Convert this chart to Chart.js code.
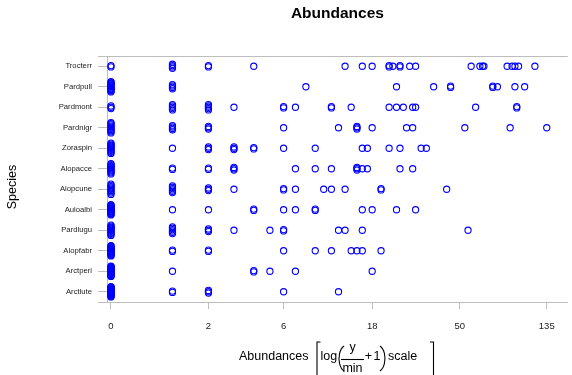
<!DOCTYPE html>
<html>
<head>
<meta charset="utf-8">
<script src="https://cdn.jsdelivr.net/npm/chart.js@4"></script>
<style>
  body { margin: 0; background: #fff; }
  #wrap { width: 572px; height: 375px; }
</style>
</head>
<body>
<div id="wrap"><canvas id="chart" width="572" height="375"></canvas></div>
<script>
// species, top to bottom
const species = ['Trocterr', 'Pardpull', 'Pardmont', 'Pardnigr', 'Zoraspin', 'Alopacce',
  'Alopcune', 'Auloalbi', 'Pardlugu', 'Alopfabr', 'Arctperi', 'Arctlute'];

// abundances at the 28 sites
const trocterr = [0, 0, 1, 1, 1, 1, 2, 2, 4, 13, 16, 18, 22, 22, 23, 25, 25, 28, 30, 57, 63, 65, 66, 86, 91, 94, 98, 118];
const pardpull = [0, 0, 0, 0, 0, 0, 0, 0, 0, 0, 0, 0, 0, 0, 1, 1, 1, 1, 8, 24, 37, 45, 45, 73, 73, 77, 94, 105];
const pardmont = [0, 0, 0, 1, 1, 1, 1, 1, 2, 2, 2, 2, 2, 3, 6, 6, 7, 11, 11, 14, 22, 24, 26, 29, 30, 60, 96, 96];
const pardnigr = [0, 0, 0, 0, 0, 0, 0, 0, 0, 0, 1, 1, 1, 1, 2, 2, 2, 6, 12, 15, 15, 15, 18, 27, 29, 53, 89, 135];
const zoraspin = [0, 0, 0, 0, 0, 0, 0, 0, 0, 0, 0, 1, 2, 2, 2, 3, 3, 3, 4, 4, 6, 9, 16, 17, 22, 25, 32, 34];
const alopacce = [0, 0, 0, 0, 0, 0, 0, 0, 0, 0, 0, 1, 1, 2, 2, 3, 3, 3, 7, 9, 11, 15, 15, 15, 16, 17, 25, 29];
const alopcune = [0, 0, 0, 0, 0, 0, 0, 0, 0, 1, 1, 1, 1, 1, 1, 2, 2, 2, 3, 6, 6, 7, 10, 11, 13, 20, 20, 43];
const auloalbi = [0, 0, 0, 0, 0, 0, 0, 0, 0, 0, 0, 0, 0, 0, 0, 0, 1, 2, 4, 4, 6, 7, 9, 9, 16, 18, 24, 30];
const pardlugu = [0, 0, 0, 0, 0, 0, 0, 0, 0, 0, 0, 1, 1, 1, 1, 1, 1, 2, 2, 2, 3, 5, 6, 6, 12, 13, 16, 55];
const alopfabr = [0, 0, 0, 0, 0, 0, 0, 0, 0, 0, 0, 0, 0, 0, 0, 0, 0, 1, 1, 2, 2, 6, 9, 11, 14, 15, 16, 20];
const arctperi = [0, 0, 0, 0, 0, 0, 0, 0, 0, 0, 0, 0, 0, 0, 0, 0, 0, 0, 0, 0, 0, 0, 1, 4, 4, 5, 7, 18];
const arctlute = [0, 0, 0, 0, 0, 0, 0, 0, 0, 0, 0, 0, 0, 0, 0, 0, 0, 0, 0, 0, 0, 1, 1, 2, 2, 2, 6, 12];

const abund = [trocterr, pardpull, pardmont, pardnigr, zoraspin, alopacce,
  alopcune, auloalbi, pardlugu, alopfabr, arctperi, arctlute];

// x tick labels (raw abundance), placed at log(y/min + 1)
const tickLabels = [0, 2, 6, 18, 50, 135];

const minPos = 1; // smallest non-zero abundance
const tr = v => Math.log(v / minPos + 1);

// spread repeated values a little up and down so they don't sit on top of each other
function stackPoints(vals, row) {
  const counts = {};
  vals.forEach(v => counts[v] = (counts[v] || 0) + 1);
  const seen = {};
  return vals.map(v => {
    const n = counts[v];
    const i = seen[v] = (seen[v] || 0) + 1;
    const spread = Math.min(0.5, 0.065 * (n - 1));
    const off = n > 1 ? -spread / 2 + spread * (i - 1) / (n - 1) : 0;
    return { x: tr(v), y: row + off };
  });
}

const points = [];
abund.forEach((vals, row) => points.push(...stackPoints(vals, row)));

const FONT = "'Liberation Sans', Arial, sans-serif";
const GRAY = '#bdbdbd';

const textPlugin = {
  id: 'texts',
  afterDraw(chart) {
    const ctx = chart.ctx;
    const area = chart.chartArea;
    ctx.save();
    ctx.fillStyle = '#000';
    ctx.strokeStyle = GRAY;
    ctx.lineWidth = 1;
    // top frame line and left extensions of the frame
    ctx.beginPath();
    ctx.moveTo(98, area.top + 0.5); ctx.lineTo(area.right, area.top + 0.5);
    ctx.moveTo(98, area.bottom + 0.5); ctx.lineTo(area.left, area.bottom + 0.5);
    ctx.stroke();

    // main title
    ctx.font = 'bold 15.5px ' + FONT;
    ctx.textAlign = 'center';
    ctx.textBaseline = 'middle';
    ctx.fillText('Abundances', (area.left + area.right) / 2, 14);

    // y title
    ctx.font = '12.5px ' + FONT;
    ctx.save();
    ctx.translate(13, 187);
    ctx.rotate(-Math.PI / 2);
    ctx.fillText('Species', 0, 0);
    ctx.restore();

    // x title: Abundances [ log( y/min + 1 ) scale ]
    const yb = 357;
    ctx.textAlign = 'left';
    ctx.fillText('Abundances', 239, yb);
    ctx.strokeStyle = '#000';
    ctx.lineWidth = 1.1;
    // left bracket
    ctx.beginPath();
    ctx.moveTo(320.5, 342); ctx.lineTo(317, 342); ctx.lineTo(317, 376);
    ctx.stroke();
    ctx.fillText('log', 320.5, yb);
    // parentheses
    ctx.beginPath();
    ctx.ellipse(347, 358.5, 8, 13.5, 0, Math.PI * 0.62, Math.PI * 1.38);
    ctx.stroke();
    ctx.beginPath();
    ctx.ellipse(377, 358.5, 8, 13.5, 0, -Math.PI * 0.38, Math.PI * 0.38);
    ctx.stroke();
    // fraction
    ctx.textAlign = 'center';
    ctx.fillText('y', 352.5, 348);
    ctx.fillText('min', 352.5, 368.5);
    ctx.beginPath();
    ctx.moveTo(341, 359.5); ctx.lineTo(364, 359.5);
    ctx.stroke();
    ctx.fillText('+', 368.5, yb);
    ctx.fillText('1', 377, yb);
    ctx.textAlign = 'left';
    ctx.fillText('scale', 388, yb);
    // right bracket
    ctx.beginPath();
    ctx.moveTo(430, 342); ctx.lineTo(433.5, 342); ctx.lineTo(433.5, 376);
    ctx.stroke();
    ctx.restore();
  }
};

new Chart(document.getElementById('chart'), {
  type: 'scatter',
  data: {
    datasets: [{
      data: points,
      pointStyle: 'circle',
      pointRadius: 3.1,
      pointHoverRadius: 3.1,
      borderColor: 'rgb(0,0,255)',
      backgroundColor: 'rgba(0,0,0,0)',
      borderWidth: 1.1
    }]
  },
  options: {
    responsive: false,
    animation: false,
    devicePixelRatio: 1,
    layout: { padding: { top: 56, right: 0, left: 0, bottom: 0 } },
    plugins: {
      legend: { display: false },
      tooltip: { enabled: false },
      title: { display: false }
    },
    scales: {
      x: {
        type: 'linear',
        min: -0.045,
        max: 5.15,
        afterBuildTicks: axis => { axis.ticks = tickLabels.map(v => ({ value: tr(v) })); },
        afterFit: axis => { axis.height = 73; },
        ticks: {
          callback: (v, i) => String(tickLabels[i]),
          font: { family: FONT, size: 9.5 },
          color: '#222',
          padding: 12,
          maxRotation: 0,
          autoSkip: false
        },
        grid: { drawOnChartArea: false, drawTicks: true, tickLength: 7, color: GRAY },
        border: { display: true, color: GRAY }
      },
      y: {
        type: 'linear',
        min: -0.5,
        max: 11.5,
        reverse: true,
        afterBuildTicks: axis => { axis.ticks = species.map((s, i) => ({ value: i })); },
        afterFit: axis => { axis.width = 107; },
        ticks: {
          callback: (v, i) => species[i],
          font: { family: FONT, size: 7.7 },
          color: '#222',
          padding: 6,
          autoSkip: false
        },
        grid: { drawOnChartArea: false, drawTicks: true, tickLength: 9, color: GRAY },
        border: { display: true, color: GRAY }
      }
    }
  },
  plugins: [textPlugin]
});
</script>
</body>
</html>
